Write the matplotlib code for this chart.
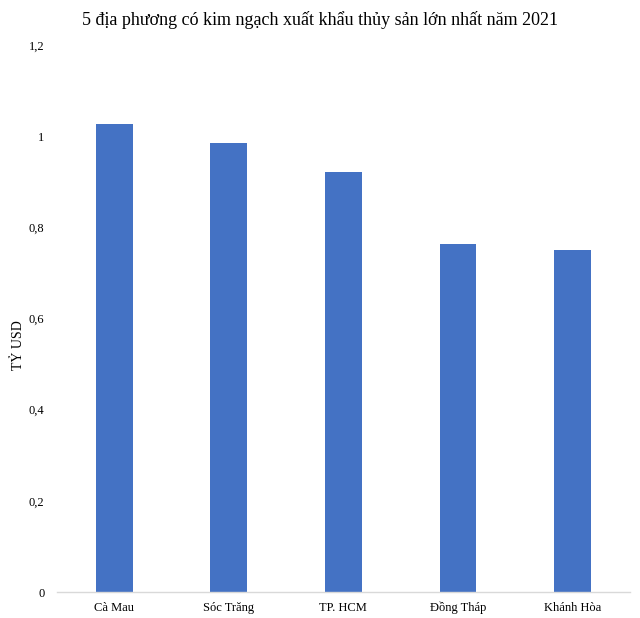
import matplotlib
matplotlib.use('Agg')
import matplotlib.pyplot as plt

# data
provinces = ['Cà Mau', 'Sóc Trăng', 'TP. HCM', 'Đồng Tháp', 'Khánh Hòa']
export_value = [1.026, 0.985, 0.921, 0.763, 0.750]
y_ticks = [0, 0.2, 0.4, 0.6, 0.8, 1.0, 1.2]
y_tick_labels = ['0', '0,2', '0,4', '0,6', '0,8', '1', '1,2']

plt.rcParams['font.family'] = ['Liberation Serif', 'DejaVu Serif']

fig = plt.figure(figsize=(6.4, 6.18), dpi=100)
ax = fig.add_axes([0.089, 0.042, 0.895, 0.885])

x = range(len(provinces))
ax.bar(x, export_value, width=0.32, color='#4472C4', zorder=2)

ax.set_xlim(-0.5, len(provinces) - 0.5)
ax.set_ylim(0, 1.2)
ax.set_yticks(y_ticks)
ax.set_yticklabels(y_tick_labels, fontsize=9)
ax.set_xticks(list(x))
ax.set_xticklabels(provinces, fontsize=9, va='baseline')
ax.tick_params(axis='x', length=0, pad=14)
ax.tick_params(axis='y', length=0, pad=9)

for side in ['top', 'right', 'left']:
    ax.spines[side].set_visible(False)
ax.spines['bottom'].set_color('#d9d9d9')
ax.spines['bottom'].set_linewidth(1)

# y label placed by hand, the left margin is tight
fig.text(18 / 640, 1 - 345 / 618, 'TỶ USD', rotation=90, fontsize=10,
         ha='center', va='center')
fig.suptitle('5 địa phương có kim ngạch xuất khẩu thủy sản lớn nhất năm 2021',
             fontsize=13, y=0.982)

fig.savefig('out.png', dpi=100)
